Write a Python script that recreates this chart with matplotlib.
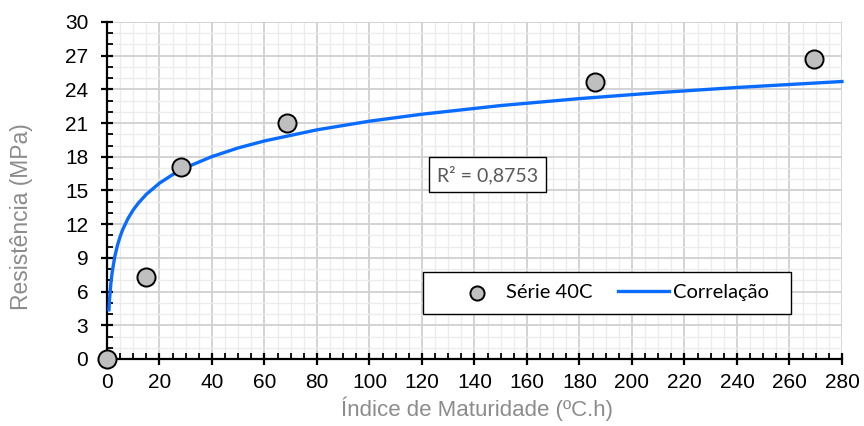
import matplotlib.pyplot as plt
from matplotlib.patches import Rectangle
from matplotlib.ticker import MultipleLocator

# measured points
serie_x = [0, 14.7, 28.1, 68.7, 185.9, 269.3]
serie_y = [0, 7.27, 17.12, 21.04, 24.67, 26.7]

# correlation curve
corr_x = [0.75, 1, 1.5, 2, 3, 4, 5, 6, 8, 10, 12, 15, 20, 25, 30, 40, 50, 60,
          80, 100, 120, 150, 180, 210, 240, 280]
corr_y = [4.38, 5.37, 6.76, 7.75, 9.14, 10.12, 10.89, 11.52, 12.50, 13.27, 13.89,
          14.66, 15.65, 16.41, 17.04, 18.02, 18.79, 19.41, 20.40, 21.17, 21.79,
          22.56, 23.18, 23.71, 24.17, 24.70]

r2_text = "R² = 0,8753"

plt.rcParams['font.family'] = ['Liberation Sans', 'DejaVu Sans']

fig = plt.figure(figsize=(8.64, 4.26), dpi=100)
ax = fig.add_axes([0.1238, 0.1573, 0.8507, 0.7911])

ax.set_xlim(0, 280)
ax.set_ylim(0, 30)
ax.xaxis.set_major_locator(MultipleLocator(20))
ax.xaxis.set_minor_locator(MultipleLocator(5))
ax.yaxis.set_major_locator(MultipleLocator(3))
ax.yaxis.set_minor_locator(MultipleLocator(1))

ax.grid(which='minor', color='#ececec', lw=1.0, zorder=0)
ax.grid(which='major', color='#d0d0d0', lw=1.3, zorder=0)
ax.set_axisbelow(True)

for s in ['top', 'right']:
    ax.spines[s].set_visible(False)
for s in ['left', 'bottom']:
    ax.spines[s].set_linewidth(1.6)
    ax.spines[s].set_zorder(3)

ax.tick_params(which='major', direction='inout', length=9, width=1.6,
               labelsize=15, colors='black')
ax.tick_params(axis='y', which='major', pad=9)
ax.tick_params(axis='x', which='major', pad=5.5)
ax.tick_params(which='minor', direction='in', length=4.5, width=1.3)

ax.scatter(serie_x, serie_y, s=170, facecolor='#bfbfbf', edgecolor='black',
           linewidth=1.4, label='Série 40C', zorder=5, clip_on=False)
ax.plot(corr_x, corr_y, color='#0a6cff', lw=2.4, label='Correlação', zorder=4,
        clip_on=False)

ax.set_xlabel('Índice de Maturidade (ºC.h)', fontsize=16, color='#8c8c8c')
ax.xaxis.set_label_coords(0.504, -0.112)
ax.set_ylabel('Resistência (MPa)', fontsize=16.5, color='#8c8c8c')
ax.yaxis.set_label_coords(-0.1007, 0.423)

ax.text(145, 16.4, r2_text, ha='center', va='center', fontsize=14,
        color='#595959', family=['Lato', 'DejaVu Sans'], zorder=6,
        bbox=dict(boxstyle='square,pad=0.42', facecolor='white',
                  edgecolor='black', lw=1.0))

# legend box drawn separately: Excel leaves wide margins left and right
ax.add_patch(Rectangle((0.4299, 0.1335), 0.5007, 0.1246, transform=ax.transAxes,
                       facecolor='white', edgecolor='black', lw=1.0, zorder=5.5))
leg = ax.legend(loc='center', bbox_to_anchor=(0.6844, 0.196), ncol=2,
                frameon=False, prop={'family': ['Lato', 'DejaVu Sans'], 'size': 14.5},
                handlelength=2.5, columnspacing=1.3, handletextpad=0.2,
                borderpad=0.3, borderaxespad=0, markerscale=0.78)
leg.set_zorder(6)

fig.savefig('out.png', dpi=100)
